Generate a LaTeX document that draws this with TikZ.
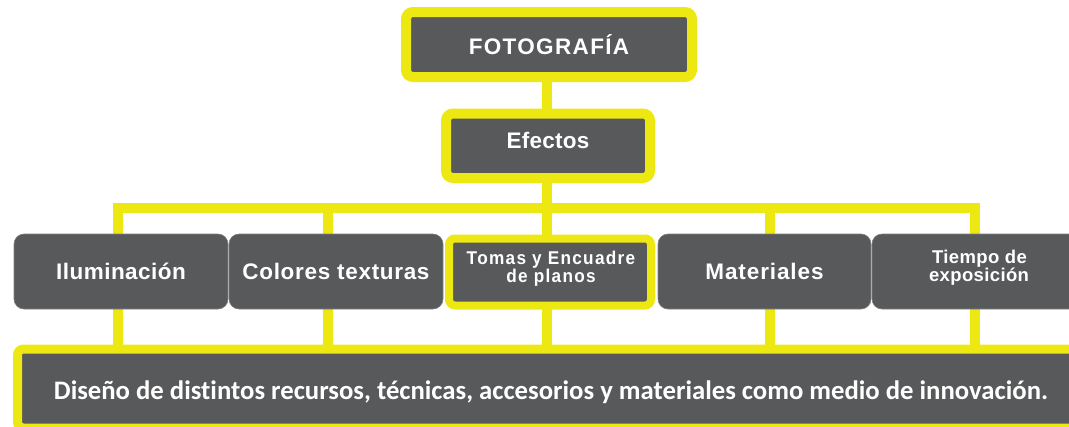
\documentclass[tikz,border=0pt]{standalone}
\usepackage{fontspec}
\setmainfont{Liberation Sans}
\newfontfamily\calfont[RawFeature=-liga]{Carlito}
\usetikzlibrary{backgrounds}
\definecolor{dk}{RGB}{88,89,91}
\definecolor{yl}{RGB}{237,232,18}
\definecolor{edge}{RGB}{125,126,128}
\tikzset{
  base/.style={fill=dk, inner sep=0pt, outer sep=0pt, text=white, align=center},
  yellowbox/.style={base, draw=yl, line width=10pt, rounded corners=7pt},
  levelbox/.style={base, draw=edge, line width=0.6pt, rounded corners=10pt, minimum width=214pt, minimum height=75pt},
  labeltext/.style={text=white, inner sep=0pt, anchor=base},
  tomasfont/.style={font=\bfseries\fontsize{18.5}{18.5}\selectfont\addfontfeatures{FakeStretch=0.93,LetterSpace=7}},
  tiempofont/.style={font=\bfseries\fontsize{18.5}{18.5}\selectfont\addfontfeatures{LetterSpace=2}},
  conn/.style={draw=yl, line width=10pt},
}
\newcommand{\bigtxt}[1]{\bfseries\fontsize{22.5}{24}\selectfont\addfontfeatures{LetterSpace=#1}}
\begin{document}
\begin{tikzpicture}[x=1pt,y=-1pt]
\useasboundingbox (0,0) rectangle (1069,426);
\clip (0,0) rectangle (1069,426);
% top boxes
\node[yellowbox, minimum width=286pt, minimum height=65pt, font=\bigtxt{6}] (foto) at (549,44.5) {FOTOGRAF\'IA};
\node[yellowbox, minimum width=204pt, minimum height=64.5pt] (efectos) at (548,145.75) {};
\node[labeltext, font=\bigtxt{1}] (efectostext) at (548,148) {Efectos};
% level boxes
\node[levelbox, font=\bigtxt{2}] (ilum) at (121,271.5) {Iluminaci\'on};
\node[levelbox, font=\bigtxt{3}] (colores) at (336,271.5) {Colores texturas};
\node[base, draw=yl, line width=8pt, rounded corners=6pt, minimum width=202pt, minimum height=67pt] (tomas) at (550,272) {};
\node[labeltext, tomasfont] (tomas1) at (551,264.5) {Tomas y Encuadre};
\node[labeltext, tomasfont] (tomas2) at (551,282.5) {de planos};
\node[levelbox, minimum width=213pt, font=\bigtxt{4}] (mat) at (764.5,271.5) {Materiales};
\node[levelbox] (tiempo) at (979,271.5) {};
\node[labeltext, tiempofont] (tiempo1) at (979.5,263) {Tiempo de};
\node[labeltext, tiempofont] (tiempo2) at (979,281) {exposici\'on};
% bottom box
\node[base, draw=yl, line width=9pt, rounded corners=6pt, minimum width=1082.5pt, minimum height=79pt] (bottom) at (558.75,388.5) {};
\node[labeltext, font=\calfont\bfseries\fontsize{26.7}{28}\selectfont] (btext) at (551,399) {Dise\~no de distintos recursos, t\'ecnicas, accesorios y materiales como medio de innovaci\'on.};
% connectors
\coordinate (j1) at (118,208);
\coordinate (j2) at (328,208);
\coordinate (j3) at (547,208);
\coordinate (j4) at (770,208);
\coordinate (j5) at (975,208);
\begin{scope}[on background layer]
  \draw[conn] (foto.south -| j3) -- (bottom.north -| j3);
  \draw[conn] (bottom.north -| j1) -- (j1) -- (j5) -- (bottom.north -| j5);
  \draw[conn] (j2) -- (bottom.north -| j2);
  \draw[conn] (j4) -- (bottom.north -| j4);
\end{scope}
\end{tikzpicture}
\end{document}
